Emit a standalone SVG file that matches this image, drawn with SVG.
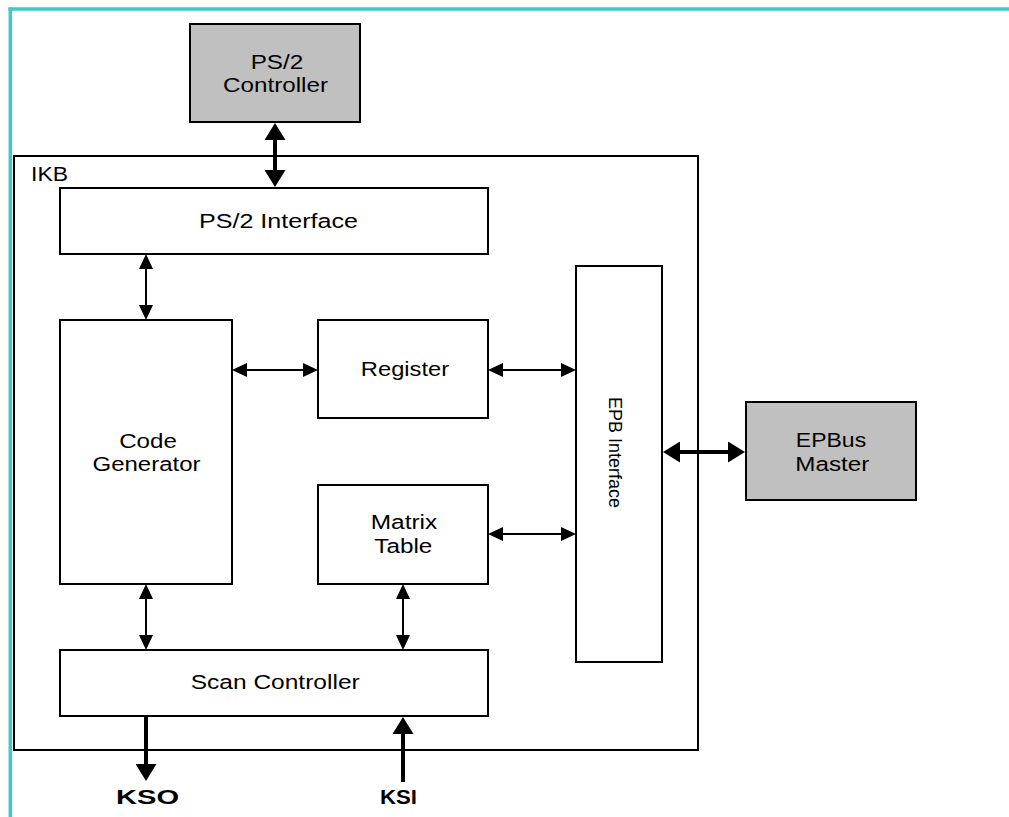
<svg xmlns="http://www.w3.org/2000/svg" width="1009" height="817" viewBox="0 0 1009 817">
  <style>
    .box { fill: #ffffff; stroke: #000000; stroke-width: 2; }
    .ext { fill: #c0c0c0; stroke: #000000; stroke-width: 2; }
    .lbl { font-family: "Liberation Sans", Arial, sans-serif; font-size: 20px; fill: #000000; text-anchor: middle; }
    .pin { font-family: "Liberation Sans", Arial, sans-serif; font-size: 20px; font-weight: bold; fill: #000000; text-anchor: middle; }
    .thin { stroke: #000000; stroke-width: 2; fill: none; }
    .thick { stroke: #000000; stroke-width: 4; fill: none; }
  </style>
  <defs>
    <marker id="head" viewBox="0 0 15 14" refX="1" refY="7" markerWidth="15" markerHeight="14" markerUnits="userSpaceOnUse" orient="auto-start-reverse">
      <path d="M0,0 L15,7 L0,14 Z" fill="#000000"/>
    </marker>
    <marker id="headBold" viewBox="0 0 17 21" refX="1" refY="10.5" markerWidth="17" markerHeight="21" markerUnits="userSpaceOnUse" orient="auto-start-reverse">
      <path d="M0,0 L17,10.5 L0,21 Z" fill="#000000"/>
    </marker>
  </defs>

  <rect width="1009" height="817" fill="#ffffff"/>

  <!-- page frame -->
  <g id="frame" stroke="#3fcaca" stroke-width="3.5" fill="none">
    <line x1="8.5" y1="9" x2="1009" y2="9"/>
    <line x1="10.3" y1="7.5" x2="10.3" y2="817"/>
  </g>

  <!-- IKB block boundary -->
  <g id="ikb">
    <rect class="box" x="14" y="156" width="684" height="594" fill="none"/>
    <text x="31" y="181" style="font-family:'Liberation Sans',Arial,sans-serif;font-size:20px" textLength="37" lengthAdjust="spacingAndGlyphs">IKB</text>
  </g>

  <g id="ps2-controller">
    <rect class="ext" x="190" y="24" width="170" height="98"/>
    <text class="lbl" x="277" y="69" textLength="52.6" lengthAdjust="spacingAndGlyphs">PS/2</text>
    <text class="lbl" x="275.5" y="91.5" textLength="105" lengthAdjust="spacingAndGlyphs">Controller</text>
  </g>

  <g id="ps2-interface">
    <rect class="box" x="60" y="188" width="428" height="66"/>
    <text class="lbl" x="278.5" y="227.5" textLength="159" lengthAdjust="spacingAndGlyphs">PS/2 Interface</text>
  </g>

  <g id="code-generator">
    <rect class="box" x="60" y="320" width="172" height="264"/>
    <text class="lbl" x="148" y="447.5" textLength="57.7" lengthAdjust="spacingAndGlyphs">Code</text>
    <text class="lbl" x="146.5" y="471" textLength="108" lengthAdjust="spacingAndGlyphs">Generator</text>
  </g>

  <g id="register">
    <rect class="box" x="318" y="320" width="170" height="98"/>
    <text class="lbl" x="405" y="375.7" textLength="88.3" lengthAdjust="spacingAndGlyphs">Register</text>
  </g>

  <g id="matrix-table">
    <rect class="box" x="318" y="485" width="170" height="99"/>
    <text class="lbl" x="404" y="529.3" textLength="66.6" lengthAdjust="spacingAndGlyphs">Matrix</text>
    <text class="lbl" x="403.3" y="552.7" textLength="58" lengthAdjust="spacingAndGlyphs">Table</text>
  </g>

  <g id="epb-interface">
    <rect class="box" x="576" y="266" width="86" height="396"/>
    <text class="lbl" transform="translate(608.5,452.5) rotate(90)" x="0" y="0" style="font-size:18px">EPB Interface</text>
  </g>

  <g id="scan-controller">
    <rect class="box" x="60" y="650" width="428" height="66"/>
    <text class="lbl" x="275.2" y="689" textLength="169" lengthAdjust="spacingAndGlyphs">Scan Controller</text>
  </g>

  <g id="epbus-master">
    <rect class="ext" x="746" y="402" width="170" height="98"/>
    <text class="lbl" x="831" y="446.7" textLength="70.3" lengthAdjust="spacingAndGlyphs">EPBus</text>
    <text class="lbl" x="832.3" y="471" textLength="74" lengthAdjust="spacingAndGlyphs">Master</text>
  </g>

  <g id="pins">
    <text class="pin" x="147.5" y="804" textLength="63" lengthAdjust="spacingAndGlyphs">KSO</text>
    <text class="pin" x="398.5" y="804" textLength="37" lengthAdjust="spacingAndGlyphs">KSI</text>
  </g>

  <!-- connectors -->
  <g id="connectors">
    <line class="thick" x1="275" y1="139" x2="275" y2="171" marker-start="url(#headBold)" marker-end="url(#headBold)"/>
    <line class="thin" x1="146" y1="268" x2="146" y2="306" marker-start="url(#head)" marker-end="url(#head)"/>
    <line class="thin" x1="246" y1="370" x2="304" y2="370" marker-start="url(#head)" marker-end="url(#head)"/>
    <line class="thin" x1="502" y1="370" x2="562" y2="370" marker-start="url(#head)" marker-end="url(#head)"/>
    <line class="thin" x1="502" y1="534" x2="562" y2="534" marker-start="url(#head)" marker-end="url(#head)"/>
    <line class="thin" x1="146" y1="598" x2="146" y2="636" marker-start="url(#head)" marker-end="url(#head)"/>
    <line class="thin" x1="403" y1="598" x2="403" y2="636" marker-start="url(#head)" marker-end="url(#head)"/>
    <line class="thick" x1="679" y1="452" x2="729" y2="452" marker-start="url(#headBold)" marker-end="url(#headBold)"/>
    <line class="thick" x1="146" y1="716" x2="146" y2="765" marker-end="url(#headBold)"/>
    <line class="thick" x1="403" y1="782" x2="403" y2="733" marker-end="url(#headBold)"/>
  </g>
</svg>
